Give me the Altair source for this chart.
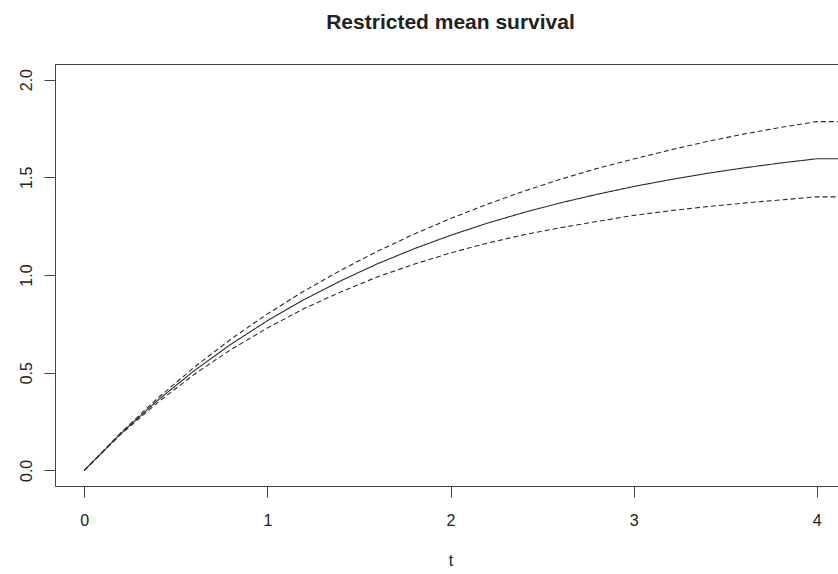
import altair as alt
import pandas as pd

# time grid (years) and read-off values
t = [0.0, 0.2, 0.4, 0.6, 0.8, 1.0, 1.2, 1.4, 1.6, 1.8, 2.0, 2.2, 2.4, 2.6, 2.8,
     3.0, 3.2, 3.4, 3.6, 3.8, 4.0, 4.16]
rmst = [0.0, 0.189, 0.358, 0.510, 0.645, 0.766, 0.874, 0.970, 1.057, 1.134, 1.203,
        1.265, 1.320, 1.369, 1.413, 1.453, 1.488, 1.520, 1.548, 1.573, 1.595, 1.595]
upper = [0.0, 0.193, 0.369, 0.528, 0.671, 0.801, 0.918, 1.024, 1.121, 1.209, 1.289,
         1.362, 1.429, 1.490, 1.545, 1.594, 1.640, 1.683, 1.721, 1.755, 1.785, 1.785]
lower = [0.0, 0.185, 0.347, 0.491, 0.618, 0.729, 0.828, 0.913, 0.990, 1.055, 1.113,
         1.163, 1.206, 1.242, 1.274, 1.305, 1.329, 1.350, 1.368, 1.384, 1.400, 1.400]

x_ticks = [0, 1, 2, 3, 4]
y_ticks = [0.0, 0.5, 1.0, 1.5, 2.0]

rows = []
for name, vals in [("estimate", rmst), ("upper", upper), ("lower", lower)]:
    for ti, v in zip(t, vals):
        rows.append({"t": ti, "value": v, "series": name})
df = pd.DataFrame(rows)

W, H = 783, 422
FONT = "Liberation Sans"
AX = "#444444"

lines = alt.Chart(df).mark_line(color="#2a2a2a", strokeWidth=1.1, clip=True).encode(
    x=alt.X("t:Q",
            scale=alt.Scale(domain=[-0.16, 4.116], nice=False, zero=False),
            axis=alt.Axis(values=x_ticks, format="d", title="t", grid=False,
                          domainColor=AX, tickColor=AX, tickSize=11,
                          labelFont=FONT, labelFontSize=16, labelColor="#222222",
                          labelBaseline="alphabetic", labelPadding=28,
                          titleFont=FONT, titleFontSize=16, titleFontWeight="normal",
                          titleColor="#222222", titleX=395.5, titleY=79,
                          titleAlign="center", titleBaseline="alphabetic")),
    y=alt.Y("value:Q",
            scale=alt.Scale(domain=[-0.08, 2.08], nice=False, zero=False),
            axis=alt.Axis(values=y_ticks, format=".1f", title=None, grid=False,
                          domainColor=AX, tickColor=AX, tickSize=11,
                          labelFont=FONT, labelFontSize=16, labelColor="#222222",
                          labelAngle=270, labelAlign="center",
                          labelBaseline="alphabetic", labelPadding=12.5)),
    strokeDash=alt.StrokeDash("series:N",
                              scale=alt.Scale(domain=["estimate", "upper", "lower"],
                                              range=[[1, 0], [5, 3], [5, 3]]),
                              legend=None),
    detail="series:N",
)

top = alt.Chart(pd.DataFrame({"k": [0]})).mark_rule(color=AX, strokeWidth=1).encode(
    x=alt.value(0), x2=alt.value(W), y=alt.value(0.5)
)

chart = alt.layer(lines, top).properties(
    width=W, height=H,
    title=alt.TitleParams("Restricted mean survival", font=FONT, fontSize=21,
                          fontWeight="bold", color="#222222", anchor="middle",
                          frame="group", dx=4, offset=14, baseline="alphabetic"),
    autosize=alt.AutoSizeParams(type="none"),
    padding={"left": 55, "top": 64, "right": 0, "bottom": 88},
).configure_view(stroke=None).configure(background="white")

chart.save("out.html", embed_options={"renderer": "svg", "actions": False})
